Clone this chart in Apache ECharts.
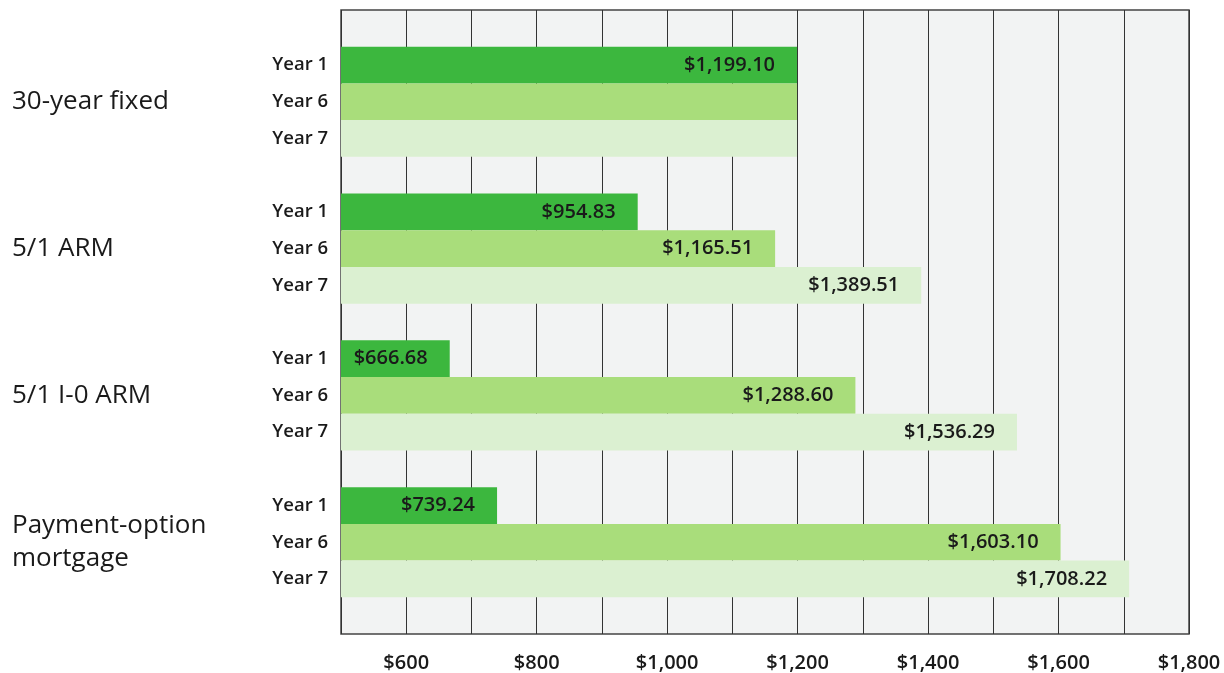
<!DOCTYPE html>
<html>
<head>
    <meta charset="UTF-8">
    <title>Monthly payments</title>
    <script src="https://cdn.jsdelivr.net/npm/echarts@6/dist/echarts.min.js"></script>
    <style>
        body { margin: 0; background: #fff; }
    </style>
</head>
<body>
<div id="chart" style="width:1224px; height:673px;"></div>
<script>
    // mortgage types and the years shown for each
    var groups = ['30-year fixed', '5/1 ARM', '5/1 I-0 ARM', 'Payment-option\nmortgage'];
    var years = ['Year 1', 'Year 6', 'Year 7'];

    // monthly payment per year (Year 1, Year 6, Year 7)
    var fixed30 = [1199.10, 1199.10, 1199.10];
    var arm51 = [954.83, 1165.51, 1389.51];
    var io51 = [666.68, 1288.60, 1536.29];
    var paymentOption = [739.24, 1603.10, 1708.22];

    // which bars carry a value label
    var fixed30Shown = [true, false, false];
    var arm51Shown = [true, true, true];
    var io51Shown = [true, true, true];
    var paymentOptionShown = [true, true, true];

    var xTicks = [600, 800, 1000, 1200, 1400, 1600, 1800];

    var yearColors = ['#3cb73e', '#a9dd7b', '#dbf0d1'];

    var values = [fixed30, arm51, io51, paymentOption];
    var shown = [fixed30Shown, arm51Shown, io51Shown, paymentOptionShown];

    // one empty slot before, between and after the groups
    var cats = ['gap0'];
    var rowYear = {'gap0': ''};
    var rowGroup = {'gap0': ''};
    var barData = [null];
    groups.forEach(function (g, gi) {
        years.forEach(function (y, yi) {
            var key = gi + '|' + yi;
            cats.push(key);
            rowYear[key] = y;
            rowGroup[key] = yi === 1 ? g : '';
            barData.push({
                value: values[gi][yi],
                itemStyle: {color: yearColors[yi]},
                label: {show: shown[gi][yi]}
            });
        });
        var gap = 'gap' + (gi + 1);
        cats.push(gap);
        rowYear[gap] = '';
        rowGroup[gap] = '';
        barData.push(null);
    });

    function money(v, digits) {
        return '$' + v.toLocaleString('en-US', {minimumFractionDigits: digits, maximumFractionDigits: digits});
    }

    var font = '"Open Sans", "Noto Sans", sans-serif';
    var chart = echarts.init(document.getElementById('chart'), null, {renderer: 'canvas'});
    chart.setOption({
        animation: false,
        textStyle: {fontFamily: font},
        grid: {
            left: 341, right: 35, top: 10, bottom: 38,
            show: true, backgroundColor: '#f2f3f3',
            borderColor: '#444', borderWidth: 1.5
        },
        xAxis: {
            type: 'value', min: 500, max: 1800, interval: 100,
            axisLine: {show: false}, axisTick: {show: false},
            splitLine: {show: true, lineStyle: {color: '#333', width: 1}},
            axisLabel: {
                margin: 19, fontSize: 20, fontWeight: 600, color: '#1a1a1a', fontFamily: font,
                formatter: function (v) { return xTicks.indexOf(v) >= 0 ? money(v, 0) : ''; }
            }
        },
        yAxis: [{
            type: 'category', data: cats, inverse: true,
            axisLine: {show: false}, axisTick: {show: false}, splitLine: {show: false},
            axisLabel: {
                interval: 0, margin: 13, fontSize: 18.5, fontWeight: 600, color: '#1a1a1a', fontFamily: font,
                padding: [5, 0, 0, 0],
                formatter: function (v) { return rowYear[v]; }
            }
        }, {
            type: 'category', data: cats, inverse: true, position: 'left',
            axisLine: {show: false}, axisTick: {show: false}, splitLine: {show: false},
            axisLabel: {
                interval: 0, margin: 329, align: 'left', fontSize: 26, lineHeight: 33,
                color: '#1a1a1a', fontFamily: font,
                formatter: function (v) { return rowGroup[v]; }
            }
        }],
        series: [{
            type: 'bar', data: barData, barCategoryGap: '0%',
            label: {
                position: 'insideRight', distance: 22, fontSize: 20, fontWeight: 600,
                color: '#1a1a1a', fontFamily: font, padding: [5, 0, 0, 0],
                formatter: function (p) { return money(p.value, 2); }
            }
        }]
    });
</script>
</body>
</html>
